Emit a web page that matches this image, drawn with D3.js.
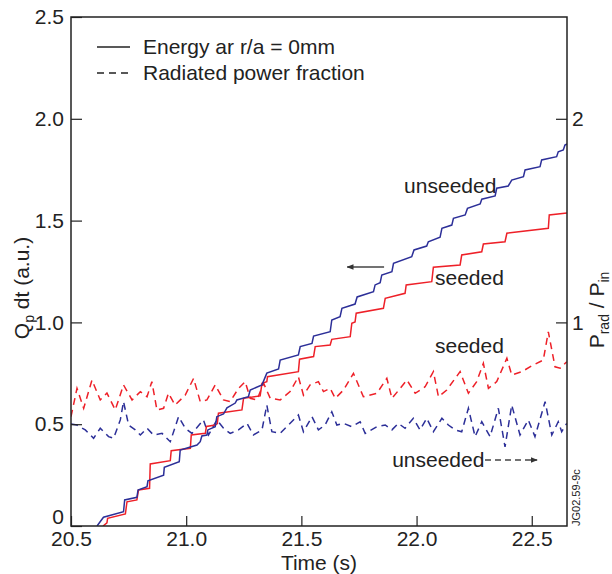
<!DOCTYPE html>
<html>
<head>
<meta charset="utf-8">
<script src="https://cdn.jsdelivr.net/npm/d3@7"></script>
<style>
body { margin:0; background:#fff; }
svg text { font-family:"Liberation Sans", Arial, Helvetica, sans-serif; fill:#222; }
</style>
</head>
<body>
<svg id="chart"></svg>
<script>
//----------data-------------
var xTicks = [20.5, 21.0, 21.5, 22.0, 22.5]
var yTicks = [0, 0.5, 1.0, 1.5, 2.0, 2.5]
var rightTicks = [1, 2]

// energy, unseeded pulse (blue solid)  [time, value]
var energyUnseeded = [
 [20.613,0],[20.641,0.043],[20.728,0.070],[20.733,0.128],[20.786,0.141],[20.791,0.177],
 [20.830,0.193],[20.834,0.222],[20.902,0.250],[20.905,0.288],[20.970,0.316],[20.974,0.373],
 [21.047,0.398],[21.061,0.414],[21.068,0.442],[21.090,0.447],[21.094,0.472],[21.126,0.488],
 [21.133,0.537],[21.162,0.550],[21.177,0.580],[21.213,0.604],[21.220,0.619],[21.270,0.635],
 [21.278,0.668],[21.329,0.693],[21.350,0.751],[21.401,0.771],[21.408,0.815],[21.487,0.840],
 [21.495,0.881],[21.546,0.897],[21.553,0.933],[21.625,0.954],[21.632,1.012],[21.668,1.028],
 [21.676,1.069],[21.733,1.090],[21.742,1.125],[21.813,1.151],[21.820,1.184],[21.842,1.195],
 [21.849,1.233],[21.893,1.249],[21.900,1.290],[21.979,1.323],[21.989,1.356],[22.044,1.375],
 [22.051,1.396],[22.102,1.418],[22.110,1.462],[22.153,1.478],[22.160,1.511],[22.211,1.528],
 [22.221,1.560],[22.276,1.582],[22.283,1.605],[22.341,1.621],[22.348,1.659],[22.398,1.670],
 [22.413,1.699],[22.464,1.716],[22.471,1.749],[22.536,1.765],[22.543,1.798],[22.608,1.814],
 [22.615,1.838],[22.637,1.847],[22.644,1.871],[22.653,1.876]
]

// energy, seeded pulse (red solid)
var energySeeded = [
 [20.639,0],[20.656,0.015],[20.659,0.038],[20.736,0.059],[20.743,0.119],[20.786,0.128],
 [20.793,0.177],[20.841,0.185],[20.844,0.305],[20.931,0.321],[20.935,0.370],[21.018,0.382],
 [21.022,0.447],[21.083,0.455],[21.088,0.489],[21.126,0.496],[21.135,0.503],[21.140,0.554],
 [21.242,0.570],[21.249,0.627],[21.321,0.639],[21.329,0.701],[21.350,0.709],[21.353,0.733],
 [21.487,0.758],[21.492,0.819],[21.553,0.832],[21.560,0.881],[21.625,0.889],[21.632,0.917],
 [21.712,0.930],[21.719,0.996],[21.733,1.002],[21.738,1.045],[21.856,1.069],[21.864,1.118],
 [21.950,1.143],[21.955,1.184],[22.066,1.200],[22.073,1.271],[22.189,1.282],[22.196,1.331],
 [22.283,1.347],[22.290,1.385],[22.384,1.396],[22.392,1.438],[22.572,1.462],[22.576,1.528],
 [22.653,1.537]
]

// radiated power fraction, seeded (red dashed)
var pradSeeded = [
 [20.500,0.537],[20.526,0.676],[20.555,0.578],[20.591,0.717],[20.627,0.619],[20.656,0.653],
 [20.692,0.570],[20.728,0.693],[20.765,0.619],[20.801,0.660],[20.830,0.635],[20.851,0.709],
 [20.873,0.570],[20.902,0.578],[20.923,0.652],[20.952,0.594],[20.996,0.643],[21.032,0.725],
 [21.061,0.611],[21.090,0.619],[21.126,0.693],[21.162,0.619],[21.191,0.611],[21.227,0.676],
 [21.256,0.709],[21.278,0.627],[21.307,0.619],[21.336,0.701],[21.365,0.627],[21.408,0.619],
 [21.451,0.660],[21.487,0.733],[21.509,0.643],[21.538,0.693],[21.574,0.709],[21.596,0.660],
 [21.625,0.676],[21.647,0.627],[21.683,0.668],[21.726,0.750],[21.769,0.635],[21.828,0.652],
 [21.871,0.725],[21.893,0.627],[21.929,0.676],[21.958,0.717],[21.994,0.652],[22.037,0.684],
 [22.073,0.758],[22.095,0.635],[22.131,0.668],[22.189,0.758],[22.225,0.652],[22.261,0.709],
 [22.290,0.799],[22.312,0.676],[22.348,0.709],[22.392,0.824],[22.413,0.742],[22.457,0.758],
 [22.507,0.791],[22.550,0.815],[22.572,0.954],[22.601,0.782],[22.623,0.775],[22.652,0.807]
]

// radiated power fraction, unseeded (blue dashed)
var pradUnseeded = [
 [20.500,0.501],[20.526,0.496],[20.562,0.472],[20.598,0.431],[20.627,0.480],[20.663,0.439],
 [20.685,0.431],[20.714,0.521],[20.728,0.611],[20.750,0.496],[20.779,0.472],[20.801,0.447],
 [20.830,0.480],[20.858,0.447],[20.895,0.455],[20.931,0.414],[20.967,0.537],[20.996,0.480],
 [21.025,0.455],[21.075,0.521],[21.097,0.447],[21.133,0.521],[21.162,0.480],[21.191,0.455],
 [21.227,0.472],[21.264,0.504],[21.292,0.447],[21.329,0.472],[21.350,0.594],[21.372,0.463],
 [21.408,0.455],[21.437,0.488],[21.487,0.545],[21.509,0.463],[21.546,0.537],[21.574,0.472],
 [21.603,0.496],[21.632,0.561],[21.654,0.496],[21.683,0.504],[21.719,0.488],[21.755,0.512],
 [21.777,0.455],[21.828,0.488],[21.864,0.496],[21.893,0.472],[21.921,0.504],[21.950,0.480],
 [21.986,0.529],[22.015,0.472],[22.044,0.529],[22.073,0.463],[22.110,0.529],[22.138,0.496],
 [22.167,0.472],[22.196,0.463],[22.225,0.578],[22.254,0.439],[22.283,0.512],[22.319,0.439],
 [22.355,0.578],[22.384,0.389],[22.413,0.594],[22.449,0.447],[22.485,0.521],[22.514,0.439],
 [22.558,0.611],[22.587,0.447],[22.615,0.512],[22.630,0.463],[22.652,0.504]
]

var legendLabels = ["Energy ar r/a = 0mm", "Radiated power fraction"]

//---------setup---------
var screen = {width:612, height:574}
var margins = {left:71, right:45, top:17, bottom:48}
var graph = {
	width: screen.width - margins.left - margins.right,
	height: screen.height - margins.top - margins.bottom
}
var blue = "#2c2f98"
var red = "#ee2028"
var ink = "#222"
var fontSize = 21

var svg = d3.select("#chart")
	.attr("width", screen.width)
	.attr("height", screen.height)

var xScale = d3.scaleLinear()
	.domain([20.5, 22.653])
	.range([0, graph.width])

var yScale = d3.scaleLinear()
	.domain([0, 2.5])
	.range([graph.height, 0])

// right axis (Prad/Pin) shares the same vertical mapping
var yScale2 = d3.scaleLinear()
	.domain([0, 2.5])
	.range([graph.height, 0])

var defs = svg.append("defs")
defs.append("clipPath")
	.attr("id", "plotclip")
	.append("rect")
	.attr("width", graph.width)
	.attr("height", graph.height)

defs.append("marker")
	.attr("id", "head")
	.attr("viewBox", "0 0 10 10")
	.attr("refX", 9).attr("refY", 5)
	.attr("markerWidth", 7).attr("markerHeight", 7)
	.attr("markerUnits", "userSpaceOnUse")
	.attr("orient", "auto")
	.append("path")
	.attr("d", "M0,1 L10,5 L0,9 Z")
	.attr("fill", "#333")

var target = svg.append("g")
	.attr("transform", "translate(" + margins.left + "," + margins.top + ")")

//---------lines---------
var line = d3.line()
	.x(function(d){ return xScale(d[0]) })
	.y(function(d){ return yScale(d[1]) })

var line2 = d3.line()
	.x(function(d){ return xScale(d[0]) })
	.y(function(d){ return yScale2(d[1]) })

var plot = target.append("g").attr("clip-path", "url(#plotclip)")

var drawLine = function(data, gen, color, dashed)
{
	plot.append("path")
		.datum(data)
		.attr("d", gen)
		.attr("fill", "none")
		.attr("stroke", color)
		.attr("stroke-width", 1.5)
		.attr("stroke-dasharray", dashed ? "7,5" : null)
}
drawLine(pradUnseeded, line2, blue, true)
drawLine(pradSeeded, line2, red, true)
drawLine(energySeeded, line, red, false)
drawLine(energyUnseeded, line, blue, false)

//---------axes---------
var xAxis = d3.axisBottom(xScale)
	.tickValues(xTicks)
	.tickSizeInner(-10)
	.tickSizeOuter(0)
	.tickPadding(5)
	.tickFormat(d3.format(".1f"))

var yAxis = d3.axisLeft(yScale)
	.tickValues(yTicks)
	.tickSizeInner(-11)
	.tickSizeOuter(0)
	.tickPadding(7)
	.tickFormat(function(d){ return d == 0 ? "0" : d3.format(".1f")(d) })

var yAxis2 = d3.axisRight(yScale2)
	.tickValues(rightTicks)
	.tickSizeInner(-11)
	.tickSizeOuter(0)
	.tickPadding(5)
	.tickFormat(d3.format("d"))

var gx = target.append("g")
	.attr("transform", "translate(0," + graph.height + ")")
	.call(xAxis)
var gy = target.append("g").call(yAxis)
var gy2 = target.append("g")
	.attr("transform", "translate(" + graph.width + ",0)")
	.call(yAxis2)

;[gx, gy, gy2].forEach(function(g){
	g.select(".domain").remove()
	g.selectAll(".tick line").attr("stroke", ink).attr("stroke-width", 1.2)
	g.selectAll(".tick text")
		.attr("fill", ink)
		.style("font-size", fontSize + "px")
})
// the zero label sits above the corner, clear of 20.5
gy.selectAll(".tick text").filter(function(d){ return d == 0 }).attr("dy", "-0.12em")

// frame
target.append("rect")
	.attr("width", graph.width)
	.attr("height", graph.height)
	.attr("fill", "none")
	.attr("stroke", ink)
	.attr("stroke-width", 1.5)

//--------labels-------
svg.append("text")
	.attr("transform", "translate(" + (margins.left + graph.width / 2) + "," + (screen.height - 4) + ")")
	.attr("text-anchor", "middle")
	.style("font-size", fontSize + "px")
	.text("Time (s)")

var ql = svg.append("text")
	.attr("transform", "translate(29,288) rotate(-90)")
	.attr("text-anchor", "middle")
	.style("font-size", fontSize + "px")
ql.append("tspan").text("Q")
ql.append("tspan").attr("dy", 5).style("font-size", "14px").text("p")
ql.append("tspan").attr("dy", -5).text(" dt (a.u.)")

var pl = svg.append("text")
	.attr("transform", "translate(604,310) rotate(-90)")
	.attr("text-anchor", "middle")
	.style("font-size", fontSize + "px")
pl.append("tspan").text("P")
pl.append("tspan").attr("dy", 5).style("font-size", "14px").text("rad")
pl.append("tspan").attr("dy", -5).text(" / P")
pl.append("tspan").attr("dy", 5).style("font-size", "14px").text("in")

svg.append("text")
	.attr("transform", "translate(580,526) rotate(-90)")
	.style("font-size", "11px")
	.text("JG02.59-9c")

//--------legend-------
var legend = target.append("g")
legend.selectAll("line")
	.data(legendLabels)
	.enter()
	.append("line")
	.attr("x1", 26).attr("x2", 59)
	.attr("y1", function(d, i){ return 30 + i * 26 })
	.attr("y2", function(d, i){ return 30 + i * 26 })
	.attr("stroke", ink)
	.attr("stroke-width", 1.5)
	.attr("stroke-dasharray", function(d, i){ return i == 1 ? "7,5" : null })
legend.selectAll("text")
	.data(legendLabels)
	.enter()
	.append("text")
	.attr("x", 72)
	.attr("y", function(d, i){ return 37 + i * 26 })
	.style("font-size", fontSize + "px")
	.text(function(d){ return d })

//--------annotations-------
var notes = [
	{text:"unseeded", t:21.946, v:1.636},
	{text:"seeded", t:22.080, v:1.184},
	{text:"seeded", t:22.080, v:0.850},
	{text:"unseeded", t:21.894, v:0.290}
]
target.selectAll(".note")
	.data(notes)
	.enter()
	.append("text")
	.attr("class", "note")
	.attr("x", function(d){ return xScale(d.t) })
	.attr("y", function(d){ return yScale(d.v) })
	.style("font-size", fontSize + "px")
	.text(function(d){ return d.text })

// arrow pointing to left axis
target.append("line")
	.attr("x1", xScale(21.859)).attr("x2", xScale(21.699))
	.attr("y1", yScale(1.272)).attr("y2", yScale(1.272))
	.attr("stroke", "#444").attr("stroke-width", 1.5)
	.attr("marker-end", "url(#head)")

// dashed arrow pointing to right axis
target.append("line")
	.attr("x1", xScale(22.297)).attr("x2", xScale(22.523))
	.attr("y1", yScale(0.324)).attr("y2", yScale(0.324))
	.attr("stroke", "#444").attr("stroke-width", 1.5)
	.attr("stroke-dasharray", "6,4")
	.attr("marker-end", "url(#head)")
</script>
</body>
</html>
